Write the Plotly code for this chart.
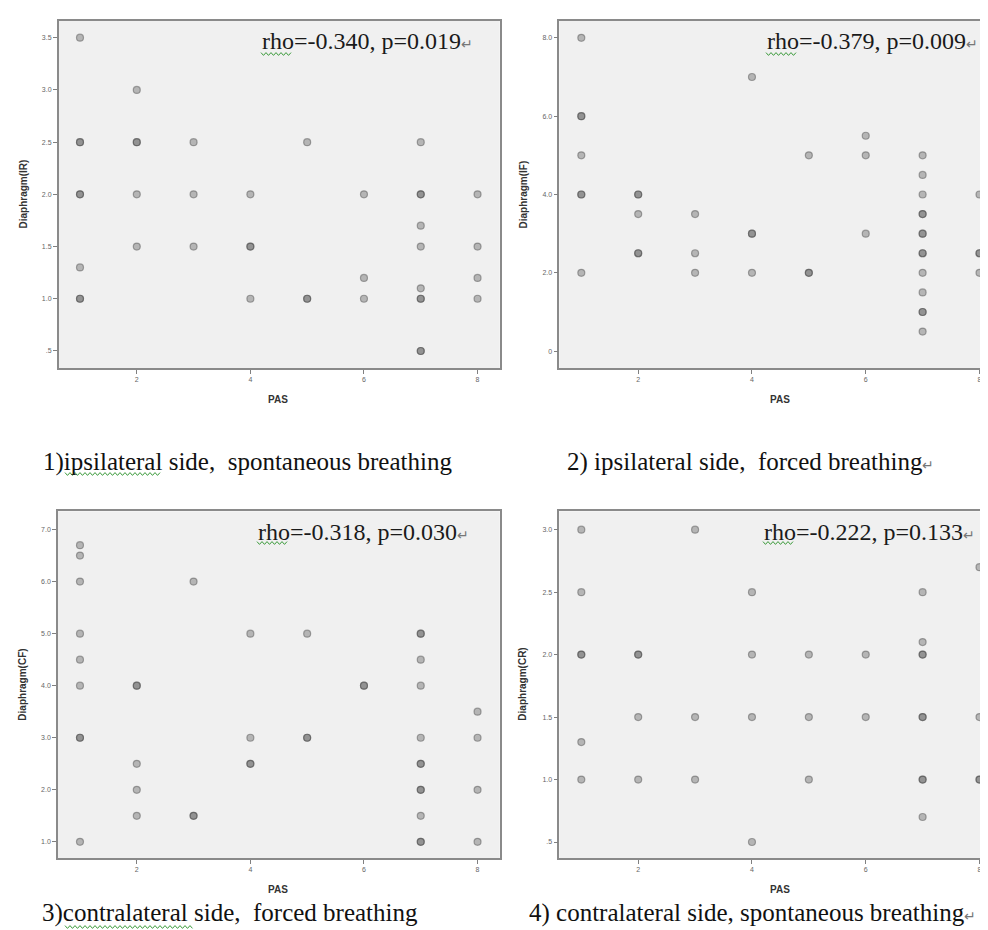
import plotly.graph_objects as go

W, H = 988, 930

# ---------------- data ----------------
pas_ir = [1]*8 + [2]*5 + [3]*3 + [4]*4 + [5]*3 + [6]*3 + [7]*10 + [8]*4
val_ir = [3.5, 2.5, 2.5, 2.0, 2.0, 1.3, 1.0, 1.0,
          3.0, 2.5, 2.5, 2.0, 1.5,
          2.5, 2.0, 1.5,
          2.0, 1.5, 1.5, 1.0,
          2.5, 1.0, 1.0,
          2.0, 1.2, 1.0,
          2.5, 2.0, 2.0, 1.7, 1.5, 1.1, 1.0, 1.0, 0.5, 0.5,
          2.0, 1.5, 1.2, 1.0]

pas_if = [1]*7 + [2]*5 + [3]*3 + [4]*4 + [5]*3 + [6]*3 + [7]*14 + [8]*4
val_if = [8.0, 6.0, 6.0, 5.0, 4.0, 4.0, 2.0,
          4.0, 4.0, 3.5, 2.5, 2.5,
          3.5, 2.5, 2.0,
          7.0, 3.0, 3.0, 2.0,
          5.0, 2.0, 2.0,
          5.5, 5.0, 3.0,
          5.0, 4.5, 4.0, 3.5, 3.5, 3.0, 3.0, 2.5, 2.5, 2.0, 1.5, 1.0, 1.0, 0.5,
          4.0, 2.5, 2.5, 2.0]

pas_cf = [1]*9 + [2]*5 + [3]*3 + [4]*4 + [5]*3 + [6]*2 + [7]*12 + [8]*4
val_cf = [6.7, 6.5, 6.0, 5.0, 4.5, 4.0, 3.0, 3.0, 1.0,
          4.0, 4.0, 2.5, 2.0, 1.5,
          6.0, 1.5, 1.5,
          5.0, 3.0, 2.5, 2.5,
          5.0, 3.0, 3.0,
          4.0, 4.0,
          5.0, 5.0, 4.5, 4.0, 3.0, 2.5, 2.5, 2.0, 2.0, 1.5, 1.0, 1.0,
          3.5, 3.0, 2.0, 1.0]

pas_cr = [1]*6 + [2]*4 + [3]*3 + [4]*4 + [5]*3 + [6]*2 + [7]*9 + [8]*4
val_cr = [3.0, 2.5, 2.0, 2.0, 1.3, 1.0,
          2.0, 2.0, 1.5, 1.0,
          3.0, 1.5, 1.0,
          2.5, 2.0, 1.5, 0.5,
          2.0, 1.5, 1.0,
          2.0, 1.5,
          2.5, 2.1, 2.0, 2.0, 1.5, 1.5, 1.0, 1.0, 0.7,
          2.7, 1.5, 1.0, 1.0]

x_tickvals = [2, 4, 6, 8]
x_ticktext = ["2", "4", "6", "8"]
y_ticks_ir = ([0.5, 1.0, 1.5, 2.0, 2.5, 3.0, 3.5], [".5", "1.0", "1.5", "2.0", "2.5", "3.0", "3.5"])
y_ticks_if = ([0, 2, 4, 6, 8], ["0", "2.0", "4.0", "6.0", "8.0"])
y_ticks_cf = ([1, 2, 3, 4, 5, 6, 7], ["1.0", "2.0", "3.0", "4.0", "5.0", "6.0", "7.0"])
y_ticks_cr = ([0.5, 1.0, 1.5, 2.0, 2.5, 3.0], [".5", "1.0", "1.5", "2.0", "2.5", "3.0"])

y_titles = ["Diaphragm(IR)", "Diaphragm(IF)", "Diaphragm(CF)", "Diaphragm(CR)"]
x_title = "PAS"
stats = ["rho=-0.340, p=0.019", "rho=-0.379, p=0.009",
         "rho=-0.318, p=0.030", "rho=-0.222, p=0.133"]
captions = ["1)ipsilateral side,  spontaneous breathing",
            "2) ipsilateral side,  forced breathing",
            "3)contralateral side,  forced breathing",
            "4) contralateral side, spontaneous breathing"]
caption_mark = [False, True, False, True]
RET = '<span style="font-size:14px;color:#777777">\u21b5</span>'

# ---------------- layout geometry (pixels) ----------------
panels = [
    dict(x=(50.7, 491.7), y=(13, 360), xr=(0.625, 8.39), yr=(0.337, 3.66),
         data=(pas_ir, val_ir), yt=y_ticks_ir, right=True),
    dict(x=(551.3, 988), y=(13, 360), xr=(0.613, 8.29), yr=(-0.43, 8.43),
         data=(pas_if, val_if), yt=y_ticks_if, right=False),
    dict(x=(50.0, 491.7), y=(503.3, 850), xr=(0.613, 8.39), yr=(0.69, 7.35),
         data=(pas_cf, val_cf), yt=y_ticks_cf, right=True),
    dict(x=(551.3, 988), y=(503.3, 850), xr=(0.613, 8.29), yr=(0.372, 3.147),
         data=(pas_cr, val_cr), yt=y_ticks_cr, right=False),
]

def px(x):
    return x / W

def py(y):
    return 1 - y / H

fig = go.Figure()
axis_common = dict(showline=True, linecolor="#8a8a8a", linewidth=1.5,
                   ticks="outside", ticklen=4, tickcolor="#808080", tickwidth=1,
                   tickfont=dict(family="Arial, Liberation Sans, sans-serif", size=7, color="#666666"),
                   showgrid=False, zeroline=False, fixedrange=True)

for i, p in enumerate(panels):
    n = "" if i == 0 else str(i + 1)
    xs, ys = p["data"]
    fig.add_trace(go.Scatter(
        x=xs, y=ys, mode="markers", xaxis="x" + n, yaxis="y" + n, showlegend=False,
        marker=dict(size=7, color="rgba(100,100,100,0.42)",
                    line=dict(color="rgba(70,70,70,0.45)", width=1.2)),
        hoverinfo="x+y"))
    fig.update_layout(**{
        "xaxis" + n: dict(axis_common, mirror=True,
                          domain=[px(p["x"][0]), px(p["x"][1])], range=list(p["xr"]),
                          tickvals=x_tickvals, ticktext=x_ticktext, anchor="y" + n),
        "yaxis" + n: dict(axis_common, mirror=p["right"],
                          domain=[py(p["y"][1]), py(p["y"][0])], range=list(p["yr"]),
                          tickvals=p["yt"][0], ticktext=p["yt"][1], anchor="x" + n),
    })

annotations = []
title_font = dict(family="Arial, Liberation Sans, sans-serif", size=10, color="#333333")
serif = "Times New Roman, Liberation Serif, serif"
y_title_x = [15, 515, 15, 515]
x_title_cx = [270, 772, 270, 772]
x_title_y = [391.7, 391.7, 881.7, 881.7]
stat_x = [252, 757, 248, 754]
stat_bottom = [48, 48, 539, 539]
cap_x = [33, 557, 32, 519]
cap_bottom = [470, 470, 921, 921]
for i, p in enumerate(panels):
    annotations.append(dict(text="<b>%s</b>" % y_titles[i], xref="paper", yref="paper",
                            x=px(y_title_x[i]), y=py((p["y"][0] + p["y"][1]) / 2),
                            textangle=-90, showarrow=False, font=title_font,
                            xanchor="center", yanchor="middle"))
    annotations.append(dict(text="<b>%s</b>" % x_title, xref="paper", yref="paper",
                            x=px(x_title_cx[i]), y=py(x_title_y[i]), showarrow=False,
                            font=title_font, xanchor="center", yanchor="middle"))
    annotations.append(dict(text=stats[i] + RET, xref="paper", yref="paper",
                            x=px(stat_x[i]), y=py(stat_bottom[i]), showarrow=False,
                            font=dict(family=serif, size=24, color="#1a1a1a"),
                            xanchor="left", yanchor="bottom"))
    annotations.append(dict(text=captions[i] + (RET if caption_mark[i] else ""),
                            xref="paper", yref="paper",
                            x=px(cap_x[i]), y=py(cap_bottom[i]), showarrow=False,
                            font=dict(family=serif, size=25, color="#111111"),
                            xanchor="left", yanchor="bottom"))

def wavy(x0, x1, y, amp=1.4, step=2.5):
    pts = []
    x = x0
    k = 0
    while x <= x1:
        yy = y + (amp if k % 2 else -amp)
        pts.append((px(x), py(yy)))
        x += step
        k += 1
    return "M " + " L ".join("%.5f,%.5f" % q for q in pts)

shapes = []
for (x0, x1, yy) in [(253, 285, 46), (758, 790, 46), (249, 281, 535), (755, 787, 535),
                     (57, 153, 466), (57, 185, 919)]:
    shapes.append(dict(type="path", xref="paper", yref="paper", path=wavy(x0, x1, yy),
                       line=dict(color="#3a9a3a", width=1)))

fig.update_layout(width=W, height=H, autosize=False, margin=dict(l=0, r=0, t=0, b=0),
                  paper_bgcolor="white", plot_bgcolor="#f0f0f0",
                  annotations=annotations, shapes=shapes)

fig.write_html("out.html")
